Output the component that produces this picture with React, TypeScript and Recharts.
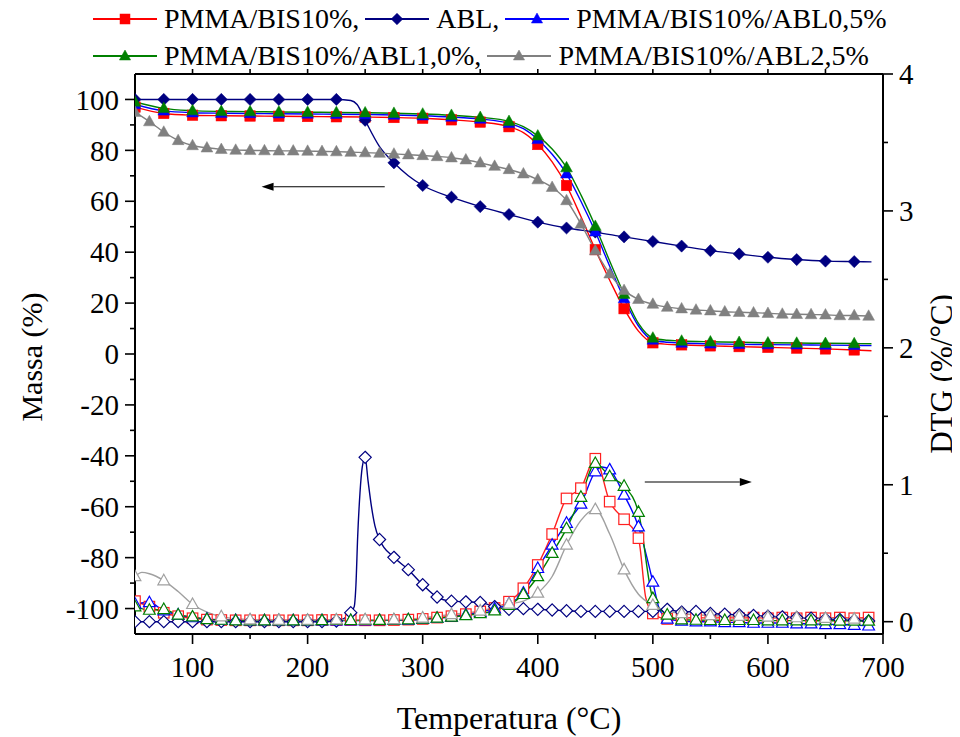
import React from 'react';
import { LineChart, Line, XAxis, YAxis, Legend, ReferenceLine, Label } from 'recharts';

const FONT = '"Liberation Serif", "Times New Roman", Times, serif';

type Pt = [number, number];

// ---- TGA: temperature (°C) -> mass (%) ----
const tgaPmma: Pt[] = [
  [50, 97], [75, 94.5], [100, 93.8], [125, 93.6], [150, 93.5], [175, 93.4], [200, 93.3], [225, 93.2],
  [250, 93.1], [275, 92.9], [300, 92.6], [325, 92.0], [350, 91.1], [375, 89.3], [387.5, 87], [400, 82.3],
  [412.5, 75.5], [425, 66.2], [437.5, 54], [450, 41], [462.5, 29], [475, 17.8], [487.5, 9], [500, 4.4],
  [512.5, 3.8], [525, 3.6], [550, 3.2], [575, 2.9], [600, 2.6], [625, 2.3], [650, 2.0], [675, 1.6], [690, 1.3],
];
const tgaAbl: Pt[] = [
  [50, 100], [75, 100], [100, 100], [125, 100], [150, 100], [175, 100], [200, 100], [225, 100],
  [237.5, 99.6], [243, 98], [250, 91.8], [262.5, 81.5], [275, 75.1], [287.5, 70], [300, 66.2], [325, 61.6],
  [350, 57.9], [375, 54.8], [400, 51.8], [425, 49.5], [450, 47.9], [475, 46], [500, 44.2], [525, 42.4],
  [550, 40.6], [575, 39.3], [600, 38], [625, 37.1], [650, 36.5], [675, 36.3], [690, 36.2],
];
const tgaAbl05: Pt[] = [
  [50, 98], [75, 95.5], [100, 94.8], [125, 94.6], [150, 94.5], [175, 94.4], [200, 94.3], [225, 94.2],
  [250, 94.1], [275, 93.9], [300, 93.6], [325, 93.1], [350, 92.3], [375, 90.6], [387.5, 88.5], [400, 84.3],
  [412.5, 78.5], [425, 70.8], [437.5, 60], [450, 48], [462.5, 34.5], [475, 21.8], [487.5, 11], [500, 5.5],
  [512.5, 4.6], [525, 4.3], [550, 4.0], [575, 3.8], [600, 3.7], [625, 3.6], [650, 3.5], [675, 3.4], [690, 3.3],
];
const tgaAbl10: Pt[] = [
  [50, 99], [75, 96.5], [100, 95.6], [125, 95.3], [150, 95.2], [175, 95.1], [200, 95], [225, 94.9],
  [250, 94.8], [275, 94.6], [300, 94.3], [325, 93.8], [350, 93], [375, 91.4], [387.5, 89.3], [400, 85.7],
  [412.5, 80.5], [425, 73.2], [437.5, 62.5], [450, 50.2], [462.5, 36.5], [475, 23.5], [487.5, 12], [500, 6.3],
  [512.5, 5.4], [525, 5.1], [550, 4.8], [575, 4.6], [600, 4.4], [625, 4.3], [650, 4.2], [675, 4.1], [690, 4.0],
];
const tgaAbl25: Pt[] = [
  [50, 95], [62.5, 91.3], [75, 87.2], [87.5, 83.9], [100, 81.9], [112.5, 81], [125, 80.4], [137.5, 80.1],
  [150, 80], [162.5, 79.9], [175, 79.8], [187.5, 79.8], [200, 79.7], [212.5, 79.6], [225, 79.5], [237.5, 79.3],
  [250, 79.1], [262.5, 78.9], [275, 78.6], [287.5, 78.3], [300, 78], [312.5, 77.6], [325, 77.1], [337.5, 76.3],
  [350, 75.1], [362.5, 73.8], [375, 72.5], [387.5, 70.8], [400, 68.5], [412.5, 65.5], [425, 60.3], [437.5, 51.1],
  [450, 40.6], [462.5, 31.5], [475, 25], [487.5, 21.5], [500, 19.6], [512.5, 18.4], [525, 17.8], [537.5, 17.3],
  [550, 17], [562.5, 16.6], [575, 16.4], [587.5, 16.2], [600, 16], [612.5, 15.7], [625, 15.6], [637.5, 15.5],
  [650, 15.4], [662.5, 15.1], [675, 15.1], [687.5, 14.9],
];

// ---- DTG: temperature (°C) -> DTG (%/°C) ----
const dtgPmma: Pt[] = [
  [50, 0.15], [62.5, 0.11], [75, 0.065], [87.5, 0.04], [100, 0.025], [112.5, 0.015], [125, 0.012], [137.5, 0.01],
  [150, 0.01], [162.5, 0.01], [175, 0.01], [187.5, 0.01], [200, 0.01], [212.5, 0.012], [225, 0.012], [237.5, 0.012],
  [250, 0.01], [262.5, 0.01], [275, 0.012], [287.5, 0.015], [300, 0.02], [312.5, 0.03], [325, 0.04], [337.5, 0.055],
  [350, 0.075], [362.5, 0.1], [375, 0.146], [387.5, 0.244], [400, 0.414], [412.5, 0.64], [425, 0.9], [437.5, 0.975],
  [450, 1.19], [462.5, 0.877], [475, 0.748], [487.5, 0.61], [493.75, 0.18], [500, 0.06], [512.5, 0.02], [525, 0.025],
  [537.5, 0.03], [550, 0.025], [562.5, 0.03], [575, 0.025], [587.5, 0.03], [600, 0.025], [612.5, 0.03], [625, 0.025],
  [637.5, 0.03], [650, 0.025], [662.5, 0.03], [675, 0.025], [687.5, 0.03],
];
const dtgAbl: Pt[] = [
  [50, 0], [62.5, 0], [75, 0], [87.5, 0], [100, 0], [112.5, 0], [125, 0], [137.5, 0], [150, 0], [162.5, 0],
  [175, 0], [187.5, 0], [200, 0], [212.5, 0], [225, 0.005], [237.5, 0.066], [240.5, 0.11], [242, 0.27],
  [243.5, 0.62], [245.5, 0.94], [247.5, 1.13], [250, 1.2], [252.5, 1.03], [255.5, 0.84], [258.5, 0.7],
  [262.5, 0.6], [275, 0.47], [287.5, 0.38], [300, 0.27], [312.5, 0.18], [325, 0.15], [337.5, 0.145], [350, 0.14],
  [362.5, 0.11], [375, 0.09], [387.5, 0.095], [400, 0.09], [412.5, 0.085], [425, 0.08], [437.5, 0.075],
  [450, 0.075], [462.5, 0.075], [475, 0.075], [487.5, 0.075], [500, 0.075], [512.5, 0.09], [525, 0.07],
  [537.5, 0.075], [550, 0.06], [562.5, 0.055], [575, 0.05], [587.5, 0.045], [600, 0.04], [612.5, 0.035],
  [625, 0.03], [637.5, 0.025], [650, 0.02], [662.5, 0.015], [675, 0.01], [687.5, 0.005],
];
const dtgAbl05: Pt[] = [
  [50, 0.13], [62.5, 0.14], [75, 0.08], [87.5, 0.05], [100, 0.03], [112.5, 0.02], [125, 0.012], [137.5, 0.01],
  [150, 0.008], [162.5, 0.008], [175, 0.008], [187.5, 0.008], [200, 0.008], [212.5, 0.008], [225, 0.008],
  [237.5, 0.008], [250, 0.008], [262.5, 0.009], [275, 0.01], [287.5, 0.013], [300, 0.018], [312.5, 0.025],
  [325, 0.035], [337.5, 0.05], [350, 0.07], [362.5, 0.095], [375, 0.13], [387.5, 0.21], [400, 0.39],
  [412.5, 0.56], [425, 0.72], [437.5, 0.86], [450, 1.096], [456, 1.13], [462.5, 1.11], [475, 0.926],
  [487.5, 0.694], [500, 0.29], [505, 0.11], [512.5, 0.02], [525, 0.005], [537.5, 0], [550, 0], [562.5, -0.005],
  [575, -0.005], [587.5, -0.01], [600, -0.01], [612.5, -0.01], [625, -0.015], [637.5, -0.015], [650, -0.02],
  [662.5, -0.02], [675, -0.025], [687.5, -0.03],
];
const dtgAbl10: Pt[] = [
  [50, 0.11], [62.5, 0.085], [75, 0.09], [87.5, 0.05], [100, 0.036], [112.5, 0.017], [125, 0.012], [137.5, 0.008],
  [150, 0.008], [162.5, 0.008], [175, 0.008], [187.5, 0.008], [200, 0.008], [212.5, 0.009], [225, 0.01],
  [237.5, 0.01], [250, 0.01], [262.5, 0.011], [275, 0.012], [287.5, 0.015], [300, 0.02], [312.5, 0.027],
  [325, 0.035], [337.5, 0.045], [350, 0.06], [362.5, 0.08], [375, 0.12], [387.5, 0.2], [400, 0.33],
  [412.5, 0.5], [425, 0.68], [437.5, 0.91], [450, 1.157], [462.5, 1.06], [475, 0.99], [487.5, 0.8],
  [500, 0.17], [512.5, 0.05], [525, 0.015], [537.5, 0.012], [550, 0.01], [562.5, 0.01], [575, 0.01],
  [587.5, 0.01], [600, 0.008], [612.5, 0.008], [625, 0.008], [637.5, 0.007], [650, 0.007], [662.5, 0.006],
  [675, 0.005], [687.5, 0.005],
];
const dtgAbl25: Pt[] = [
  [50, 0.33], [56, 0.36], [62.5, 0.35], [75, 0.3], [87.5, 0.22], [100, 0.127], [112.5, 0.07], [125, 0.037],
  [137.5, 0.022], [150, 0.015], [175, 0.012], [200, 0.012], [225, 0.014], [250, 0.015], [275, 0.016],
  [300, 0.028], [325, 0.053], [350, 0.079], [375, 0.13], [387.5, 0.15], [400, 0.21], [412.5, 0.33],
  [425, 0.56], [437.5, 0.74], [450, 0.82], [462.5, 0.64], [475, 0.38], [487.5, 0.2], [500, 0.12],
  [512.5, 0.08], [525, 0.06], [550, 0.045], [575, 0.04], [600, 0.035], [625, 0.03], [650, 0.025],
  [675, 0.02], [687.5, 0.02],
];

// ---- labels / ticks ----
const seriesLabels = ['PMMA/BIS10%,', 'ABL,', 'PMMA/BIS10%/ABL0,5%', 'PMMA/BIS10%/ABL1,0%,', 'PMMA/BIS10%/ABL2,5%'];
const massTicks = [-100, -90, -80, -70, -60, -50, -40, -30, -20, -10, 0, 10, 20, 30, 40, 50, 60, 70, 80, 90, 100];
const dtgTicks = [0, 0.5, 1, 1.5, 2, 2.5, 3, 3.5, 4];
const tempTicks = [100, 150, 200, 250, 300, 350, 400, 450, 500, 550, 600, 650, 700];
const tempTopTicks = [100, 150, 200, 250, 300, 350, 400, 450, 500, 550, 600, 650];
const massArrow = { from: 267, to: 160, y: 65.7 };
const dtgArrow = { from: 493, to: 586, y: 1.02 };

type Shape = 'square' | 'diamond' | 'triangle';
interface SeriesDef {
  label: string; color: string; dtgColor: string; shape: Shape;
  tga: Pt[]; dtg: Pt[]; tgaStep: number; dtgStep: number;
}
const series: SeriesDef[] = [
  { label: seriesLabels[0], color: '#FF0000', dtgColor: '#FF2020', shape: 'square', tga: tgaPmma, dtg: dtgPmma, tgaStep: 25, dtgStep: 12.5 },
  { label: seriesLabels[1], color: '#000080', dtgColor: '#000080', shape: 'diamond', tga: tgaAbl, dtg: dtgAbl, tgaStep: 25, dtgStep: 12.5 },
  { label: seriesLabels[2], color: '#0000FF', dtgColor: '#0000FF', shape: 'triangle', tga: tgaAbl05, dtg: dtgAbl05, tgaStep: 25, dtgStep: 12.5 },
  { label: seriesLabels[3], color: '#008000', dtgColor: '#008000', shape: 'triangle', tga: tgaAbl10, dtg: dtgAbl10, tgaStep: 25, dtgStep: 12.5 },
  { label: seriesLabels[4], color: '#808080', dtgColor: '#A0A0A0', shape: 'triangle', tga: tgaAbl25, dtg: dtgAbl25, tgaStep: 12.5, dtgStep: 25 },
];

const rows = (pts: Pt[]) => pts.map(([T, v]) => ({ T, v }));

function Marker({ shape, cx, cy, fill, stroke, sw, s }: { shape: Shape; cx: number; cy: number; fill: string; stroke: string; sw: number; s: number }) {
  if (shape === 'square') {
    return <rect x={cx - s / 2} y={cy - s / 2} width={s} height={s} fill={fill} stroke={stroke} strokeWidth={sw} />;
  }
  if (shape === 'diamond') {
    const r = s * 0.58;
    return <polygon points={`${cx},${cy - r} ${cx + r},${cy} ${cx},${cy + r} ${cx - r},${cy}`} fill={fill} stroke={stroke} strokeWidth={sw} />;
  }
  const w = s * 1.12;
  const h = s;
  return <polygon points={`${cx},${cy - h * 0.6} ${cx + w / 2},${cy + h * 0.4} ${cx - w / 2},${cy + h * 0.4}`} fill={fill} stroke={stroke} strokeWidth={sw} strokeLinejoin="miter" />;
}

const makeDot = (shape: Shape, step: number, color: string, hollow: boolean) => (props: any) => {
  const { cx, cy, payload, index } = props;
  const q = payload.T / step;
  if (cx == null || cy == null || Math.abs(q - Math.round(q)) > 1e-6) return <g key={`n-${index}`} />;
  return (
    <g key={`m-${index}`}>
      <Marker shape={shape} cx={cx} cy={cy} s={hollow ? 10.5 : 10.5} fill={hollow ? '#FFFFFF' : color} stroke={color} sw={hollow ? 1.2 : 0.5} />
    </g>
  );
};

const tickStyle: React.CSSProperties = { fontFamily: FONT, fontSize: 29 };

const LeftTick = (p: any) => {
  const { x, y, payload } = p;
  const ax = x + 16;
  const v = payload.value as number;
  const major = Math.round(v) % 20 === 0;
  return (
    <g>
      <line x1={ax} y1={y} x2={ax - (major ? 10 : 5)} y2={y} stroke="#000" strokeWidth={1.6} />
      {major && <text x={x} y={y} dy="0.35em" textAnchor="end" fill="#000" style={tickStyle}>{String(v)}</text>}
    </g>
  );
};
const RightTick = (p: any) => {
  const { x, y, payload } = p;
  const ax = x - 16;
  const v = payload.value as number;
  const major = Math.abs(v - Math.round(v)) < 1e-6;
  return (
    <g>
      <line x1={ax} y1={y} x2={ax + (major ? 10 : 5)} y2={y} stroke="#000" strokeWidth={1.6} />
      {major && <text x={x} y={y} dy="0.35em" textAnchor="start" fill="#000" style={tickStyle}>{String(v)}</text>}
    </g>
  );
};
const BottomTick = (p: any) => {
  const { x, y, payload } = p;
  const ay = y - 22;
  const v = payload.value as number;
  const major = v % 100 === 0;
  return (
    <g>
      <line x1={x} y1={ay} x2={x} y2={ay + (major ? 10 : 5)} stroke="#000" strokeWidth={1.6} />
      {major && <text x={x} y={y} dy="0.71em" textAnchor="middle" fill="#000" style={tickStyle}>{String(v)}</text>}
    </g>
  );
};

const ArrowShape = (p: any) => {
  const { x1, y1, x2, y2 } = p;
  const dx = x2 - x1;
  const dy = y2 - y1;
  const len = Math.hypot(dx, dy) || 1;
  const ux = dx / len;
  const uy = dy / len;
  const L = 12;
  const W = 4;
  const bx = x2 - ux * L;
  const by = y2 - uy * L;
  return (
    <g>
      <line x1={x1} y1={y1} x2={bx} y2={by} stroke="#000" strokeWidth={1.2} />
      <polygon points={`${x2},${y2} ${bx - uy * W},${by + ux * W} ${bx + uy * W},${by - ux * W}`} fill="#000" />
    </g>
  );
};

const LegendEntry = ({ s }: { s: SeriesDef }) => (
  <span style={{ display: 'inline-flex', alignItems: 'center', marginRight: 6, whiteSpace: 'nowrap' }}>
    <svg width={64} height={20} style={{ display: 'block' }}>
      <line x1={0} y1={10} x2={64} y2={10} stroke={s.color} strokeWidth={2} />
      <Marker shape={s.shape} cx={32} cy={10} s={10} fill={s.color} stroke={s.color} sw={0.5} />
    </svg>
    <span style={{ marginLeft: 7 }}>{s.label}</span>
  </span>
);

const LegendBox = () => (
  <div style={{ fontFamily: FONT, fontSize: 28, color: '#000', paddingLeft: 85 }}>
    <div style={{ display: 'flex', alignItems: 'center', height: 37 }}>
      <LegendEntry s={series[0]} />
      <LegendEntry s={series[1]} />
      <LegendEntry s={series[2]} />
    </div>
    <div style={{ display: 'flex', alignItems: 'center', height: 37 }}>
      <LegendEntry s={series[3]} />
      <LegendEntry s={series[4]} />
    </div>
  </div>
);

const titleStyle: React.CSSProperties = { fontFamily: FONT, fontSize: 30 };

export default function App() {
  return (
    <LineChart width={952} height={729} margin={{ top: 60, right: 17, bottom: 43, left: 47 }}>
      <XAxis xAxisId="x" dataKey="T" type="number" domain={[50, 700]} ticks={tempTicks} allowDataOverflow
        height={60} tickSize={10} tickMargin={12} tickLine={false} tick={<BottomTick />}
        axisLine={{ stroke: '#000', strokeWidth: 2 }} interval={0}>
        <Label content={(lp: any) => {
          const vb = lp.viewBox || { x: 127, y: 626, width: 748 };
          return <text x={vb.x + vb.width / 2} y={vb.y + 84} textAnchor="middle" dominantBaseline="central" fill="#000" style={{ ...titleStyle, fontSize: 32 }}>Temperatura (°C)</text>;
        }} />
      </XAxis>
      <XAxis xAxisId="top" orientation="top" dataKey="T" type="number" domain={[50, 700]} ticks={tempTopTicks}
        allowDataOverflow height={6} tickSize={5} tickLine={{ stroke: '#000', strokeWidth: 1.6 }}
        tickFormatter={() => ''} axisLine={{ stroke: '#000', strokeWidth: 2 }} interval={0} />
      <YAxis yAxisId="left" type="number" domain={[-110, 110]} ticks={massTicks} allowDataOverflow width={80}
        tickSize={10} tickMargin={6} tickLine={false} tick={<LeftTick />} interval={0}
        axisLine={{ stroke: '#000', strokeWidth: 2 }}>
        <Label content={(lp: any) => {
          const vb = lp.viewBox || { x: 47, y: 66, height: 560 };
          const cx = vb.x - 24;
          const cy = vb.y + vb.height / 2 + 3;
          return <text x={cx} y={cy} transform={`rotate(-90 ${cx} ${cy})`} textAnchor="middle" dominantBaseline="central" fill="#000" style={titleStyle}>Massa (%)</text>;
        }} />
      </YAxis>
      <YAxis yAxisId="right" orientation="right" type="number" domain={[-0.09, 4]} ticks={dtgTicks} allowDataOverflow width={60}
        tickSize={10} tickMargin={6} tickLine={false} tick={<RightTick />} interval={0}
        axisLine={{ stroke: '#000', strokeWidth: 2 }}>
        <Label content={(lp: any) => {
          const vb = lp.viewBox || { x: 875, y: 66, height: 560 };
          const cx = vb.x + 58;
          const cy = vb.y + vb.height / 2 + 20;
          return <text x={cx} y={cy} transform={`rotate(-90 ${cx} ${cy})`} textAnchor="middle" dominantBaseline="central" fill="#000" style={{ ...titleStyle, fontSize: 31 }}>DTG (%/°C)</text>;
        }} />
      </YAxis>
      <Legend content={<LegendBox />} layout="horizontal" verticalAlign="middle" align="center"
        wrapperStyle={{ top: -8, left: 0, width: 952, height: 74 }} />

      {series.map((s, i) => (
        <Line key={`tga-${i}`} xAxisId="x" yAxisId="left" data={rows(s.tga)} dataKey="v" type="monotone"
          stroke={s.color} strokeWidth={1.4} dot={makeDot(s.shape, s.tgaStep, s.color, false)} activeDot={false}
          isAnimationActive={false} legendType="none" />
      ))}
      {series.map((s, i) => (
        <Line key={`dtg-${i}`} xAxisId="x" yAxisId="right" data={rows(s.dtg)} dataKey="v" type="monotone"
          stroke={s.dtgColor} strokeWidth={1.4} dot={makeDot(s.shape, s.dtgStep, s.dtgColor, true)} activeDot={false}
          isAnimationActive={false} legendType="none" />
      ))}

      <ReferenceLine xAxisId="x" yAxisId="left" segment={[{ x: massArrow.from, y: massArrow.y }, { x: massArrow.to, y: massArrow.y }]}
        stroke="#000" ifOverflow="visible" shape={ArrowShape} />
      <ReferenceLine xAxisId="x" yAxisId="right" segment={[{ x: dtgArrow.from, y: dtgArrow.y }, { x: dtgArrow.to, y: dtgArrow.y }]}
        stroke="#000" ifOverflow="visible" shape={ArrowShape} />
    </LineChart>
  );
}
